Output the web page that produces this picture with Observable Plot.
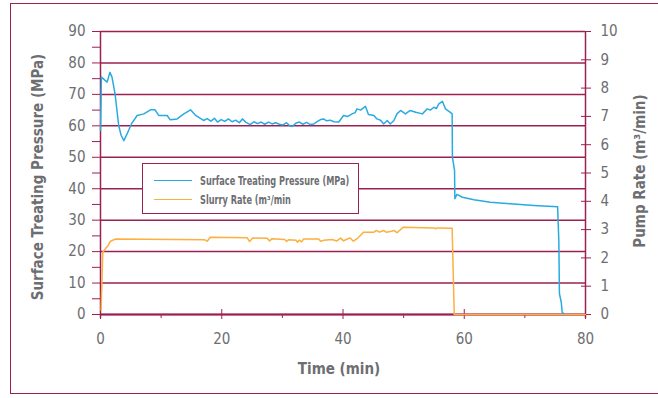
<!DOCTYPE html>
<html>
<head>
<meta charset="utf-8">
<script src="https://cdn.jsdelivr.net/npm/d3@7"></script>
<script src="https://cdn.jsdelivr.net/npm/@observablehq/plot@0.6"></script>
<style>
  html, body { margin: 0; padding: 0; background: #fff; }
  #wrap { position: relative; width: 658px; height: 398px; overflow: hidden; font-family: "DejaVu Sans Condensed", "DejaVu Sans", sans-serif; font-stretch: condensed; }
  #wrap svg { position: absolute; left: 0; top: 0; font-stretch: condensed; }
  #border { position: absolute; left: 10px; top: 3px; width: 700px; height: 391px; border: 1.5px solid #9b2150; box-sizing: border-box; }
  #legend { position: absolute; left: 142px; top: 163px; width: 217px; height: 51px; border: 1.5px solid #9b2150; background: #fff; box-sizing: border-box; }
  .item { position: absolute; left: 11px; display: flex; align-items: center; font-size: 11.5px; font-weight: bold; color: #6d6e71; white-space: nowrap; }
  .item span.sw { display: inline-block; width: 38px; height: 0; border-top: 1.5px solid; margin-right: 8px; }
  .item span.lab { display: inline-block; transform: scaleX(0.79); transform-origin: left center; }
</style>
</head>
<body>
<div id="wrap">
  <div id="border"></div>
  <div id="chart"></div>
  <div id="legend"></div>
</div>
<script>
// Surface treating pressure (MPa) vs time (min)
const pressureTime = [0, 0.15, 1.1, 1.55, 1.9, 2.4, 2.65, 3.0, 3.4, 3.85, 4.4, 5.1, 6.05, 7.15, 8.25, 9.0, 9.6, 11.0, 11.5, 12.65, 13.75, 14.85, 15.7,
  17.0, 17.6, 18.2, 18.8, 19.3, 19.9, 20.5, 21.1, 21.7, 22.3, 22.9, 23.4, 24.0, 24.7, 25.3, 25.9, 26.5, 27.1, 27.7, 28.3, 28.9, 29.5, 30.1, 30.7, 31.2, 31.6, 32.2, 32.8, 33.4, 34.0, 34.6, 35.2, 35.8, 36.3, 36.8, 37.3, 37.9, 38.5, 39.3,
  40.1, 40.8, 41.5, 42.0, 42.3, 42.9, 43.7, 44.2, 45.1, 45.6, 46.2, 46.7, 47.3, 47.8, 48.4, 48.9, 49.5, 50.3, 51.1, 52.0, 53.1, 53.9, 54.4, 55.0, 55.4, 55.8, 56.4, 56.9, 57.7, 58.0,
  58.05, 58.4, 58.45, 58.8, 59.7, 61.6, 64.3, 67.6, 71.5, 75.4, 75.6, 75.7, 76.0, 76.15, 76.4];
const pressure = [58.5, 75.5, 73.9, 77, 75.5, 70.2, 66, 60.1, 57, 55.3, 57.5, 60.6, 63.3, 63.8, 65.1, 65.1, 63.3, 63.3, 61.9, 62.2, 63.8, 65.1, 63.3,
  61.7, 62.3, 61.5, 62.4, 61.2, 62.0, 61.4, 62.2, 61.3, 61.8, 61.0, 62.2, 61.1, 60.4, 61.3, 60.7, 61.2, 60.5, 61.2, 60.6, 61.0, 60.5, 60.3, 61.0, 60.0, 59.8, 60.8, 61.2, 60.5, 61.1, 60.4, 60.6, 61.4, 62.0, 62.2, 61.6, 61.8, 61.3, 61.2,
  63.3, 63.0, 63.8, 64.2, 65.4, 65.0, 66.2, 63.6, 63.3, 62.2, 61.8, 60.6, 61.7, 60.6, 61.7, 63.8, 64.9, 63.8, 64.9, 64.3, 63.8, 65.4, 65.0, 65.9, 65.5, 67.0, 67.8, 65.4, 64.3, 63.8,
  50, 45.8, 36.8, 38.2, 37.3, 36.5, 35.7, 35.2, 34.7, 34.3, 23.5, 6.6, 3.9, 0.7, 0.3];

// Slurry (pump) rate (m³/min) vs time (min)
const rateTime = [0.1, 0.38, 0.8, 1.27, 1.65, 2.5, 17.2, 17.6, 18.1, 24.2, 24.6, 25.1, 27.5, 27.9, 28.3, 30.4, 30.7, 31.0, 32.3, 32.5, 32.8, 33.2, 33.5, 36.0, 36.3, 36.8, 38.2, 39.0, 39.6, 40.1, 40.6, 41.2, 41.7, 42.3, 42.9, 43.4, 45.1, 45.5, 46.0, 46.7, 47.1, 47.6, 48.4, 48.9, 49.9, 55.0, 55.3, 55.6, 58.0, 58.35, 80];
const rate = [0.15, 2.2, 2.32, 2.44, 2.59, 2.67, 2.64, 2.59, 2.73, 2.71, 2.58, 2.70, 2.69, 2.60, 2.68, 2.65, 2.58, 2.64, 2.62, 2.55, 2.63, 2.57, 2.67, 2.67, 2.59, 2.62, 2.65, 2.60, 2.70, 2.60, 2.66, 2.70, 2.59, 2.67, 2.80, 2.91, 2.91, 2.97, 2.91, 2.97, 2.91, 2.92, 2.97, 2.89, 3.08, 3.06, 3.03, 3.06, 3.05, 0, 0];

// Axis ticks
const xMajor = [0, 20, 40, 60, 80];
const xMinor = [10, 30, 50, 70];
const yMajor = [0, 10, 20, 30, 40, 50, 60, 70, 80, 90];
const yMinor = [5, 15, 25, 35, 45, 55, 65, 75, 85];
const rateTicks = [0, 1, 2, 3, 4, 5, 6, 7, 8, 9, 10];

const seriesNames = ["Surface Treating Pressure (MPa)", "Slurry Rate (m\u00b3/min"];
const seriesColors = ["#29abe2", "#fbb040"];

const maroon = "#9b2150";
const gray = "#6d6e71";
const rateToP = 9; // 10 m³/min on right axis == 90 MPa on left axis

const pData = pressureTime.map((t, i) => ({t, v: pressure[i]}));
const rData = rateTime.map((t, i) => ({t, v: rate[i] * rateToP}));

const chart = Plot.plot({
  width: 658,
  height: 398,
  marginLeft: 100,
  marginRight: 73,
  marginTop: 31,
  marginBottom: 84,
  style: {fontFamily: "'DejaVu Sans Condensed', 'DejaVu Sans', sans-serif", fontSize: "15px", background: "transparent", overflow: "visible"},
  x: {domain: [0, 80]},
  y: {domain: [0, 90]},
  marks: [
    Plot.gridY(yMajor, {stroke: maroon, strokeOpacity: 1, strokeWidth: 1.5}),
    Plot.axisY(yMajor, {anchor: "left", tickSize: 8, tickPadding: 7, stroke: maroon, color: gray, label: null, fontSize: 15}),
    Plot.axisY(yMinor, {anchor: "left", tickSize: 8, stroke: maroon, tickFormat: () => "", label: null}),
    Plot.axisY(rateTicks.map(r => r * rateToP), {anchor: "right", tickSize: 5, tickPadding: 10, stroke: maroon, color: gray, tickFormat: d => d / rateToP, label: null, fontSize: 15}),
    Plot.axisY(rateTicks.map(r => r * rateToP), {anchor: "right", tickSize: 5, dx: -5, stroke: maroon, tickFormat: () => "", label: null}),
    Plot.axisX(xMajor, {anchor: "bottom", tickSize: 5, tickPadding: 14, stroke: maroon, color: gray, label: null, fontSize: 15}),
    Plot.axisX(xMajor, {anchor: "bottom", tickSize: 5, dy: -5, stroke: maroon, tickFormat: () => "", label: null}),
    Plot.axisX(xMinor, {anchor: "bottom", tickSize: 4, stroke: maroon, tickFormat: () => "", label: null}),
    Plot.ruleX([0, 80], {stroke: maroon, strokeWidth: 1.5, insetBottom: -4}),
    Plot.ruleY([0], {stroke: maroon, strokeWidth: 2}),
    Plot.line(rData, {x: "t", y: "v", stroke: seriesColors[1], strokeWidth: 1.5}),
    Plot.line(pData, {x: "t", y: "v", stroke: seriesColors[0], strokeWidth: 1.5}),
    Plot.text(["Surface Treating Pressure (MPa)"], {frameAnchor: "left", rotate: -90, dx: -62, dy: 4, textAnchor: "middle", lineAnchor: "middle", fill: gray, fontWeight: "bold", fontSize: 15}),
    Plot.text(["Pump Rate (m\u00b3/min)"], {frameAnchor: "right", rotate: -90, dx: 55, dy: -2, textAnchor: "middle", lineAnchor: "middle", fill: gray, fontWeight: "bold", fontSize: 15}),
    Plot.text(["Time (min)"], {frameAnchor: "bottom", dx: -4, dy: 55, textAnchor: "middle", lineAnchor: "middle", fill: gray, fontWeight: "bold", fontSize: 15})
  ]
});
document.getElementById("chart").appendChild(chart);

const legend = document.getElementById("legend");
seriesNames.forEach((name, i) => {
  const row = document.createElement("div");
  row.className = "item";
  row.style.top = (i === 0 ? 9.5 : 28.5) + "px";
  const sw = document.createElement("span");
  sw.className = "sw";
  sw.style.borderColor = seriesColors[i];
  row.appendChild(sw);
  const lab = document.createElement("span");
  lab.className = "lab";
  lab.textContent = name;
  row.appendChild(lab);
  legend.appendChild(row);
});
</script>
</body>
</html>
